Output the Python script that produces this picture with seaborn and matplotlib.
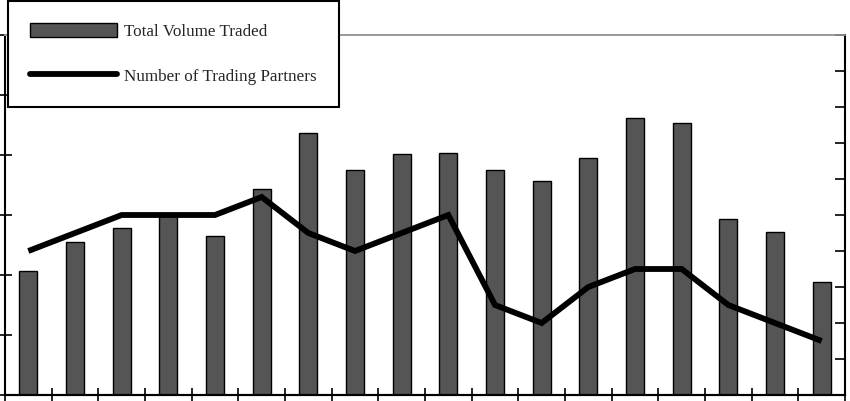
import matplotlib
matplotlib.use("Agg")
import matplotlib.pyplot as plt
import seaborn as sns
import pandas as pd
from matplotlib.patches import Patch
from matplotlib.lines import Line2D

periods = [str(i) for i in range(1, 19)]
volume = [207, 255, 278, 300, 265, 343, 437, 375, 402, 403, 375, 357, 395, 462, 453, 293, 272, 188]
partners = [8, 9, 10, 10, 10, 11, 9, 8, 9, 10, 5, 4, 6, 7, 7, 5, 4, 3]

sns.set_style("white")
plt.rcParams['font.family'] = ['Liberation Serif', 'DejaVu Serif']

df = pd.DataFrame({"period": periods, "volume": volume, "partners": partners,
                   "pos": list(range(len(periods)))})

fig = plt.figure(figsize=(8.5, 4.01), dpi=100)
ax = fig.add_axes([5/850, 6/401, 840/850, 360/401])

sns.barplot(data=df, x="period", y="volume", ax=ax, color="#555555",
            saturation=1, width=0.38, edgecolor="black", linewidth=1.0)
ax.set_ylim(0, 600)
ax.set_xlim(-0.5, 17.5)
ax.set_yticks(range(0, 601, 100))
ax.set_xticks([i - 0.5 for i in range(19)])
ax.set_xticklabels([])
ax.set_yticklabels([])
ax.set_xlabel("")
ax.set_ylabel("")
ax.tick_params(axis="both", which="both", direction="inout", length=10,
               width=1.2, color="black", left=True, bottom=True)

ax2 = ax.twinx()
sns.lineplot(data=df, x="pos", y="partners", ax=ax2, color="black",
             linewidth=4.2, solid_joinstyle="miter", solid_capstyle="butt")
ax2.set_ylim(0, 20)
ax2.set_xlim(-0.5, 17.5)
ax2.set_yticks(range(0, 21, 2))
ax2.set_yticklabels([])
ax2.set_ylabel("")
ax2.tick_params(axis="y", direction="in", length=7, width=1.2, color="black", right=True)

for a in (ax, ax2):
    for s in ("left", "right", "bottom"):
        a.spines[s].set_color("black")
        a.spines[s].set_linewidth(1.5)
    a.spines["top"].set_color("#999999")
    a.spines["top"].set_linewidth(1.2)
ax.spines["right"].set_visible(False)
ax2.spines["left"].set_visible(False)

handles = [Patch(facecolor="#555555", edgecolor="black", linewidth=1.0),
           Line2D([0], [0], color="black", linewidth=4.2)]
labels = ["Total Volume Traded", "Number of Trading Partners"]
leg = fig.legend(handles, labels, loc="upper left",
                 bbox_to_anchor=(8/850, 1 - 1/401), bbox_transform=fig.transFigure,
                 borderaxespad=0, fontsize=12.3, frameon=True, fancybox=False,
                 edgecolor="black", framealpha=1, handlelength=5.1,
                 handleheight=0.9, handletextpad=0.4, labelspacing=1.6,
                 borderpad=1.3)
leg.get_frame().set_linewidth(1.5)
leg.set_zorder(10)

fig.savefig("out.png", dpi=100)
